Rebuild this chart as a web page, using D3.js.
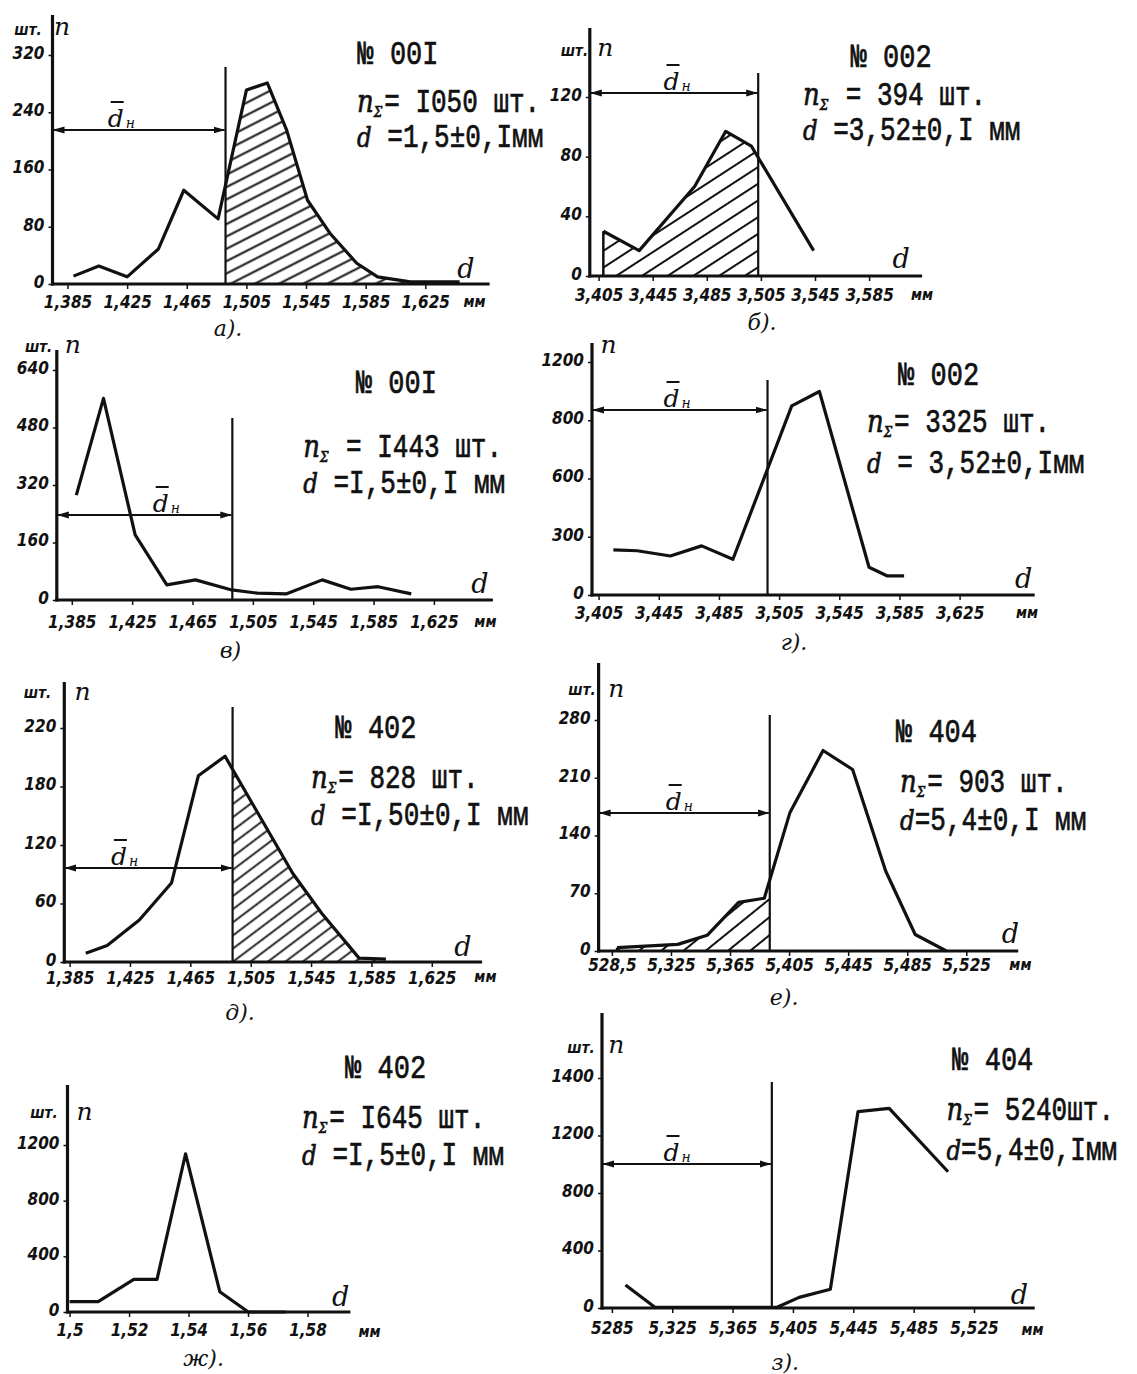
<!DOCTYPE html>
<html><head><meta charset="utf-8">
<script src="https://cdn.jsdelivr.net/npm/d3@7"></script>
<style>body{margin:0;background:#fff}svg{display:block}</style>
</head><body>
<svg id="fig" width="1137" height="1374"></svg>
<script>
// Frequency polygons of ball diameters d (mm), count n (pcs) per class.

// а) № 001, 1050 pcs
const aD = [1.389,1.406,1.425,1.446,1.463,1.486,1.505,1.519,1.532,1.546,1.561,1.579,1.593,1.615,1.648];
const aN = [11,25,10,49,131,91,271,281,215,117,71,29,10,3,3];
const aXLabels = ["1,385","1,425","1,465","1,505","1,545","1,585","1,625"];
const aYTicks = [0,80,160,240,320];
const aYLabels = ["0","80","160","240","320"];
const aNominal = 1.491;
const aHeader = ["№ 00I", "= I050 шт.", " =1,5±0,Iмм"];

// б) № 002, 394 pcs
const bD = [3.4085,3.435,3.476,3.499,3.518,3.564];
const bN = [30,17,60,97,87,17];
const bXLabels = ["3,405","3,445","3,485","3,505","3,545","3,585"];
const bYTicks = [0,40,80,120];
const bYLabels = ["0","40","80","120"];
const bNominal = 3.523;
const bHeader = ["№ 002", " = 394 шт.", " =3,52±0,I мм"];

// в) № 001, 1443 pcs
const cD = [1.388,1.406,1.427,1.448,1.467,1.491,1.508,1.527,1.551,1.570,1.588,1.610];
const cN = [292,561,181,42,56,28,19,17,56,30,37,17];
const cXLabels = ["1,385","1,425","1,465","1,505","1,545","1,585","1,625"];
const cYTicks = [0,160,320,480,640];
const cYLabels = ["0","160","320","480","640"];
const cNominal = 1.4914;
const cHeader = ["№ 00I", " = I443 шт.", " =I,5±0,I мм"];

// г) № 002, 3325 pcs
const dD = [3.4148,3.4307,3.4527,3.4735,3.4943,3.5334,3.5518,3.5848,3.597,3.6081];
const dN = [232,228,201,253,184,974,1048,143,98,98];
const dXLabels = ["3,405","3,445","3,485","3,505","3,545","3,585","3,625"];
const dYTicks = [0,300,600,900,1200];
const dYLabels = ["0","300","600","800","1200"];
const dNominal = 3.5173;
const dHeader = ["№ 002", "= 3325 шт.", " = 3,52±0,Iмм"];

// д) № 402, 828 pcs
const eD = [1.3957,1.4099,1.4312,1.4525,1.4703,1.488,1.5328,1.552,1.5768,1.5946];
const eN = [9,17,43,81,191,211,91,50,4,3];
const eXLabels = ["1,385","1,425","1,465","1,505","1,545","1,585","1,625"];
const eYTicks = [0,60,120,180,240];
const eYLabels = ["0","60","120","180","220"];
const eNominal = 1.493;
const eHeader = ["№ 402", "= 828 шт.", " =I,50±0,I мм"];

// е) № 404, 903 pcs
const fD = [5.2885,5.3296,5.3495,5.3708,5.3882,5.4056,5.428,5.448,5.4704,5.4904,5.5115];
const fN = [4,8,19,59,64,168,243,220,97,20,0];
const fXLabels = ["528,5","5,325","5,365","5,405","5,445","5,485","5,525"];
const fYTicks = [0,70,140,210,280];
const fYLabels = ["0","70","140","210","280"];
const fNominal = 5.3919;
const fHeader = ["№ 404", "= 903 шт.", "=5,4±0,I мм"];

// ж) № 402, 1645 pcs
const gD = [1.5,1.5096,1.5216,1.5294,1.539,1.5505,1.5601,1.5727];
const gN = [74,74,235,235,1137,146,0,0];
const gXLabels = ["1,5","1,52","1,54","1,56","1,58"];
const gYTicks = [0,400,800,1200];
const gYLabels = ["0","400","800","1200"];
const gHeader = ["№ 402", "= I645 шт.", " =I,5±0,I мм"];

// з) № 404, 5240 pcs
const hD = [5.294,5.3135,5.3945,5.4091,5.4298,5.4481,5.4688,5.5078];
const hN = [160,5,5,74,130,1366,1389,948];
const hXLabels = ["5285","5,325","5,365","5,405","5,445","5,485","5,525"];
const hYTicks = [0,400,800,1200,1600];
const hYLabels = ["0","400","800","1200","1400"];
const hNominal = 5.391;
const hHeader = ["№ 404", "= 5240шт.", "=5,4±0,Iмм"];

const TICK_FONT = "'DejaVu Sans Condensed','DejaVu Sans',sans-serif";
const MONO = "'Liberation Mono','DejaVu Sans Mono',monospace";
const SERIF = "'DejaVu Serif','Liberation Serif',serif";
const INK = "#111";

const svg = d3.select("#fig");
svg.append("rect").attr("width", 1137).attr("height", 1374).attr("fill", "#fff");
const defs = svg.append("defs");
defs.append("marker").attr("id", "arrow")
  .attr("markerUnits", "userSpaceOnUse").attr("markerWidth", 12).attr("markerHeight", 8)
  .attr("refX", 11).attr("refY", 4).attr("orient", "auto-start-reverse")
  .append("path").attr("d", "M0,0.5 L12,4 L0,7.5 Z").attr("fill", INK);

function txt(g, s, x, y, font, size, opts = {}) {
  return g.append("text").attr("x", x).attr("y", y).text(s)
    .attr("text-anchor", opts.anchor || "start")
    .style("font-family", font).style("font-size", size + "px")
    .style("font-style", opts.italic ? "italic" : "normal")
    .style("font-weight", opts.bold ? "bold" : "normal")
    .attr("fill", INK);
}

// typewriter lines are taller than the mono face, so they are stretched vertically
const TYPE_STRETCH = 1.25;

function drawPanel(p, f) {
  const g = svg.append("g");
  const xTicks = p.xLabels.map((_, i) => p.xStart + i * p.xStep);
  const x = d3.scaleLinear().domain([xTicks[0], xTicks[xTicks.length - 1]]).range([f.x1, f.x2]);
  const y = d3.scaleLinear().domain([0, p.yTicks[p.yTicks.length - 1]]).range([f.y0, f.y1]);
  const pts = p.d.map((v, i) => [v, p.n[i]]);

  // hatched share on one side of the nominal diameter
  if (p.hatch) {
    const pid = "hatch-" + p.key, cid = "clip-" + p.key;
    defs.append("pattern").attr("id", pid).attr("patternUnits", "userSpaceOnUse")
      .attr("width", p.hatch.gap).attr("height", p.hatch.gap)
      .attr("patternTransform", `rotate(${-p.hatch.angle})`)
      .append("line").attr("x1", -1).attr("x2", p.hatch.gap + 1)
      .attr("y1", p.hatch.gap / 2).attr("y2", p.hatch.gap / 2)
      .attr("stroke", INK).attr("stroke-width", p.hatch.w);
    const lo = p.hatch.side === "right" ? p.nominal : p.d[0];
    const hi = p.hatch.side === "right" ? p.d[p.d.length - 1] : p.nominal;
    defs.append("clipPath").attr("id", cid).append("rect")
      .attr("x", x(lo)).attr("y", f.top).attr("width", x(hi) - x(lo)).attr("height", y(0) - f.top);
    g.append("path").datum(pts)
      .attr("d", d3.area().x(d => x(d[0])).y0(y(0)).y1(d => y(d[1])))
      .attr("fill", `url(#${pid})`).attr("clip-path", `url(#${cid})`);
    if (p.hatch.side === "left") {
      g.append("line").attr("x1", x(p.d[0])).attr("x2", x(p.d[0]))
        .attr("y1", y(p.n[0])).attr("y2", y(0)).attr("stroke", INK).attr("stroke-width", 2.5);
    }
  }

  // axes
  g.append("line").attr("x1", f.axisX).attr("x2", f.axisX).attr("y1", f.top).attr("y2", y(0) + 1.5)
    .attr("stroke", INK).attr("stroke-width", 3.2);
  g.append("line").attr("x1", f.axisX - 1.5).attr("x2", f.right).attr("y1", y(0)).attr("y2", y(0))
    .attr("stroke", INK).attr("stroke-width", 3.2);

  const xa = g.append("g").attr("transform", `translate(0,${y(0)})`)
    .call(d3.axisBottom(x).tickValues(xTicks).tickFormat((d, i) => p.xLabels[i]).tickSize(5));
  xa.select(".domain").remove();
  xa.selectAll(".tick line").attr("stroke", INK).attr("stroke-width", 1.5);
  xa.selectAll(".tick text").attr("y", f.lblY - y(0)).attr("dy", "0.35em").attr("fill", INK)
    .style("font-family", TICK_FONT).style("font-size", "17px")
    .style("font-style", "italic").style("font-weight", "bold");

  const ya = g.append("g").attr("transform", `translate(${f.axisX},0)`)
    .call(d3.axisLeft(y).tickValues(p.yTicks).tickFormat((d, i) => p.yLabels[i]).tickSize(4).tickPadding(4));
  ya.select(".domain").remove();
  ya.selectAll(".tick line").attr("stroke", INK).attr("stroke-width", 1.5);
  ya.selectAll(".tick text").attr("dy", "0.2em").attr("fill", INK)
    .style("font-family", TICK_FONT).style("font-size", "17px")
    .style("font-style", "italic").style("font-weight", "bold");

  // nominal diameter and the d̄н span
  if (p.nominal !== undefined) {
    const xn = x(p.nominal);
    g.append("line").attr("x1", xn).attr("x2", xn).attr("y1", f.nomTop).attr("y2", y(0))
      .attr("stroke", INK).attr("stroke-width", 2.2);
    g.append("line").attr("x1", f.axisX + 1).attr("x2", xn - 1).attr("y1", f.arrowY).attr("y2", f.arrowY)
      .attr("stroke", INK).attr("stroke-width", 2.2)
      .attr("marker-start", "url(#arrow)").attr("marker-end", "url(#arrow)");
    const dx = f.dnX, by = f.arrowY - 3;
    txt(g, "d", dx, by, SERIF, 25, { italic: true, anchor: "middle" });
    g.append("line").attr("x1", dx - 5).attr("x2", dx + 8).attr("y1", by - 25).attr("y2", by - 25)
      .attr("stroke", INK).attr("stroke-width", 2);
    txt(g, "н", dx + 10, by + 1, SERIF, 14, { italic: true });
  }

  // polygon
  g.append("path").datum(pts)
    .attr("d", d3.line().x(d => x(d[0])).y(d => y(d[1])))
    .attr("fill", "none").attr("stroke", INK).attr("stroke-width", 3.2)
    .attr("stroke-linejoin", "round");

  // axis names
  if (f.sht) txt(g, "шт.", f.sht[0], f.sht[1], TICK_FONT, 15, { italic: true, bold: true, anchor: "middle" });
  txt(g, "n", f.n[0], f.n[1], SERIF, 25, { italic: true, anchor: "middle" });
  txt(g, "d", f.dLbl[0], f.dLbl[1], SERIF, 27, { italic: true, anchor: "middle" });
  txt(g, "мм", f.mm[0], f.mm[1], TICK_FONT, 15, { italic: true, bold: true, anchor: "middle" });
  txt(g, p.caption, f.cap[0], f.cap[1], SERIF, 22, { italic: true, anchor: "middle" });

  // typed header
  const at = (pt) => `translate(${pt[0]},${pt[1]}) scale(1,${TYPE_STRETCH})`;
  const t1 = g.append("text").attr("transform", at(f.h1)).attr("text-anchor", "middle").attr("fill", INK)
    .text(p.header[0]).style("font-family", MONO).style("font-size", "27px");
  const l2 = g.append("text").attr("transform", at(f.h2)).attr("fill", INK);
  l2.append("tspan").text("n").style("font-family", SERIF).style("font-style", "italic").style("font-size", "26px");
  l2.append("tspan").text("Σ").attr("dy", 4).style("font-family", SERIF).style("font-style", "italic").style("font-size", "12px");
  l2.append("tspan").text(p.header[1]).attr("dy", -4).attr("dx", 2).style("font-family", MONO).style("font-size", "26px");
  const l3 = g.append("text").attr("transform", at(f.h3)).attr("fill", INK);
  l3.append("tspan").text("d").style("font-family", SERIF).style("font-style", "italic").style("font-size", "23px");
  l3.append("tspan").text(p.header[2]).style("font-family", MONO).style("font-size", "26px");
  [t1, l2, l3].forEach(t => t.attr("stroke", INK).attr("stroke-width", 0.55).style("white-space", "pre"));
}

const layout = {
  a: { x1: 67.5, x2: 425.3, y0: 284, y1: 55, axisX: 52.5, top: 15, right: 489.6, lblY: 302, nomTop: 67, arrowY: 130, dnX: 115.7,
       sht: [28, 35], n: [62, 35], dLbl: [466, 278], mm: [474.6, 307], cap: [228, 336], h1: [398, 64], h2: [357, 112], h3: [357, 147] },
  b: { x1: 598.6, x2: 869.1, y0: 276, y1: 97, axisX: 589.8, top: 28, right: 922.1, lblY: 295, nomTop: 73, arrowY: 93, dnX: 671.5,
       sht: [574.4, 56], n: [605.3, 56], dLbl: [901.1, 268], mm: [922.1, 300], cap: [762, 330], h1: [891.2, 67], h2: [802.9, 105], h3: [802.9, 140] },
  c: { x1: 71.8, x2: 433.9, y0: 600, y1: 370, axisX: 56.8, top: 350, right: 492.9, lblY: 622, nomTop: 418, arrowY: 515, dnX: 160.7,
       sht: [38.6, 352], n: [72.9, 353], dLbl: [480, 593], mm: [485.4, 627], cap: [230.4, 658], h1: [396.4, 393], h2: [303.2, 457], h3: [303.2, 493] },
  d: { x1: 598.6, x2: 959.6, y0: 595, y1: 362, axisX: 592, top: 343, right: 1034.7, lblY: 613, nomTop: 380, arrowY: 410, dnX: 671.5,
       sht: null, n: [608.6, 353], dLbl: [1023.7, 588], mm: [1027, 618], cap: [794, 650], h1: [938.7, 385], h2: [866.9, 432], h3: [866.9, 473] },
  e: { x1: 69.6, x2: 431.8, y0: 962, y1: 728, axisX: 64.3, top: 682, right: 482.1, lblY: 978, nomTop: 707, arrowY: 868, dnX: 118.9,
       sht: [37.5, 698], n: [82.5, 700], dLbl: [462.9, 956], mm: [485.4, 982], cap: [240, 1020], h1: [376, 738], h2: [311, 788], h3: [311, 825] },
  f: { x1: 611.9, x2: 966.3, y0: 951, y1: 720, axisX: 598.6, top: 663, right: 1018.2, lblY: 965, nomTop: 715, arrowY: 813, dnX: 673.7,
       sht: [582, 695], n: [616.3, 697], dLbl: [1010.4, 943], mm: [1020.4, 970], cap: [784.1, 1005], h1: [936.5, 742], h2: [900, 792], h3: [900, 830] },
  g: { x1: 69.6, x2: 307.5, y0: 1312, y1: 1145, axisX: 67.5, top: 1085, right: 350.4, lblY: 1330,
       sht: [43.9, 1118], n: [84.6, 1120], dLbl: [340.7, 1306], mm: [369.6, 1337], cap: [203.6, 1366], h1: [385.7, 1078], h2: [302.1, 1128], h3: [302.1, 1165] },
  h: { x1: 611.9, x2: 974, y0: 1308, y1: 1078, axisX: 602, top: 1013, right: 1034.7, lblY: 1328, nomTop: 1082, arrowY: 1164, dnX: 671.5,
       sht: [581, 1053], n: [616.3, 1053], dLbl: [1019.3, 1304], mm: [1032.5, 1335], cap: [785.2, 1370], h1: [992.8, 1070], h2: [946.4, 1120], h3: [946.4, 1160] }
};

const panels = [
  { key: "a", d: aD, n: aN, xLabels: aXLabels, xStart: 1.385, xStep: 0.04, yTicks: aYTicks, yLabels: aYLabels,
    nominal: aNominal, header: aHeader, caption: "а).", hatch: { side: "right", angle: 27, gap: 11, w: 2 } },
  { key: "b", d: bD, n: bN, xLabels: bXLabels, xStart: 3.405, xStep: 0.04, yTicks: bYTicks, yLabels: bYLabels,
    nominal: bNominal, header: bHeader, caption: "б).", hatch: { side: "left", angle: 33, gap: 14, w: 2 } },
  { key: "c", d: cD, n: cN, xLabels: cXLabels, xStart: 1.385, xStep: 0.04, yTicks: cYTicks, yLabels: cYLabels,
    nominal: cNominal, header: cHeader, caption: "в)" },
  { key: "d", d: dD, n: dN, xLabels: dXLabels, xStart: 3.405, xStep: 0.04, yTicks: dYTicks, yLabels: dYLabels,
    nominal: dNominal, header: dHeader, caption: "г)." },
  { key: "e", d: eD, n: eN, xLabels: eXLabels, xStart: 1.385, xStep: 0.04, yTicks: eYTicks, yLabels: eYLabels,
    nominal: eNominal, header: eHeader, caption: "д).", hatch: { side: "right", angle: 37, gap: 10.5, w: 1.8 } },
  { key: "f", d: fD, n: fN, xLabels: fXLabels, xStart: 5.285, xStep: 0.04, yTicks: fYTicks, yLabels: fYLabels,
    nominal: fNominal, header: fHeader, caption: "е).", hatch: { side: "left", angle: 39, gap: 14, w: 2 } },
  { key: "g", d: gD, n: gN, xLabels: gXLabels, xStart: 1.5, xStep: 0.02, yTicks: gYTicks, yLabels: gYLabels,
    header: gHeader, caption: "ж)." },
  { key: "h", d: hD, n: hN, xLabels: hXLabels, xStart: 5.285, xStep: 0.04, yTicks: hYTicks, yLabels: hYLabels,
    nominal: hNominal, header: hHeader, caption: "з)." }
];

panels.forEach(p => drawPanel(p, layout[p.key]));
</script>
</body></html>
